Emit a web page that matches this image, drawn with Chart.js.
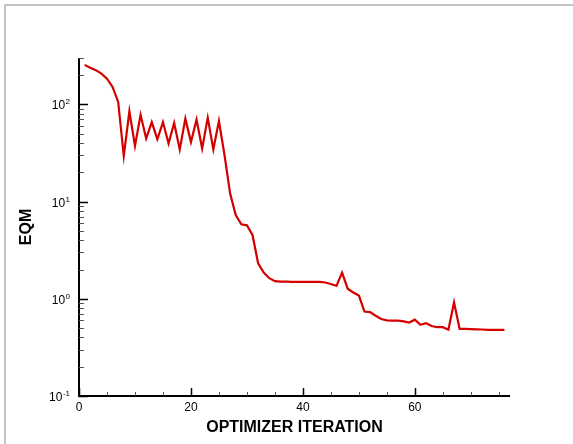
<!DOCTYPE html>
<html>
<head>
<meta charset="utf-8">
<script src="https://cdn.jsdelivr.net/npm/chart.js@4/dist/chart.umd.min.js"></script>
<style>
html,body{margin:0;padding:0;background:#fff;}
canvas{display:block;}
</style>
</head>
<body>
<canvas id="c" width="573" height="444"></canvas>
<script>
const iterations = [1,2,3,4,5,6,7,8,9,10,11,12,13,14,15,16,17,18,19,20,
  21,22,23,24,25,26,27,28,29,30,31,32,33,34,35,36,37,38,39,40,
  41,42,43,44,45,46,47,48,49,50,51,52,53,54,55,56,57,58,59,60,
  61,62,63,64,65,66,67,68,69,70,71,72,73,74,75,76];
const eqm = [255,238,225,207,184,151,106,29.5,85,37.3,
  78,44.5,65.8,43.8,65.8,39.5,64.3,34.3,71.3,41,
  69.7,35.1,73,34.3,67.4,30,12.1,7.27,5.83,5.7,
  4.53,2.32,1.86,1.63,1.52,1.50,1.50,1.49,1.49,1.49,
  1.49,1.49,1.49,1.47,1.42,1.36,1.86,1.27,1.16,1.08,
  0.74,0.73,0.67,0.62,0.60,0.595,0.595,0.585,0.57,0.61,
  0.54,0.56,0.525,0.51,0.51,0.48,0.917,0.49,0.49,0.488,
  0.485,0.483,0.48,0.48,0.48,0.48];
const xMajorTicks = [0,20,40,60];
const xMinorTicks = [5,10,15,25,30,35,45,50,55,65,70,75];
const yMajorTicks = [0.1,1,10,100];
const yExponents = ['-1','0','1','2'];
const yMinorTicks = [0.2,0.3,0.4,0.5,0.6,0.7,0.8,0.9,2,3,4,5,6,7,8,9,20,30,40,50,60,70,80,90,200,300];
const xTitle = 'OPTIMIZER ITERATION';
const yTitle = 'EQM';

const FONT = '"Liberation Sans", Arial, Helvetica, sans-serif';

const axesPlugin = {
  id: 'axesPlugin',
  beforeDraw(chart) {
    const ctx = chart.ctx;
    ctx.save();
    ctx.fillStyle = '#fff';
    ctx.fillRect(0, 0, chart.width, chart.height);
    ctx.strokeStyle = '#c4c4c4';
    ctx.lineWidth = 2;
    ctx.beginPath();
    ctx.moveTo(5, chart.height);
    ctx.lineTo(5, 5);
    ctx.lineTo(chart.width, 5);
    ctx.stroke();
    ctx.restore();
  },
  afterDraw(chart) {
    const ctx = chart.ctx;
    const xs = chart.scales.x, ys = chart.scales.y;
    const a = chart.chartArea;
    ctx.save();
    ctx.strokeStyle = '#000';
    ctx.lineWidth = 2;
    ctx.beginPath();
    ctx.moveTo(a.left, a.top);
    ctx.lineTo(a.left, a.bottom);
    ctx.lineTo(a.right, a.bottom);
    ctx.stroke();
    ctx.lineWidth = 1.5;
    ctx.beginPath();
    yMajorTicks.forEach(v => { const y = Math.round(ys.getPixelForValue(v)) + 0.5; ctx.moveTo(a.left, y); ctx.lineTo(a.left + 9, y); });
    xMajorTicks.forEach(v => { const x = Math.round(xs.getPixelForValue(v)) + 0.5; ctx.moveTo(x, a.bottom); ctx.lineTo(x, a.bottom - 8); });
    ctx.stroke();
    ctx.lineWidth = 1;
    ctx.strokeStyle = '#555';
    ctx.beginPath();
    yMinorTicks.forEach(v => { const y = Math.round(ys.getPixelForValue(v)) + 0.5; ctx.moveTo(a.left, y); ctx.lineTo(a.left + 5, y); });
    xMinorTicks.forEach(v => { const x = Math.round(xs.getPixelForValue(v)) + 0.5; ctx.moveTo(x, a.bottom); ctx.lineTo(x, a.bottom - 4); });
    ctx.stroke();
    ctx.fillStyle = '#000';
    ctx.textAlign = 'right';
    ctx.textBaseline = 'alphabetic';
    yMajorTicks.forEach((v, i) => {
      const y = ys.getPixelForValue(v);
      const right = 70;
      ctx.font = '8px ' + FONT;
      const w = ctx.measureText(yExponents[i]).width;
      ctx.fillText(yExponents[i], right, y);
      ctx.font = '12px ' + FONT;
      ctx.fillText('10', right - w - 0.5, y + 5);
    });
    ctx.restore();
  }
};

new Chart(document.getElementById('c'), {
  type: 'line',
  data: {
    datasets: [{
      data: iterations.map((it, i) => ({x: it, y: eqm[i]})),
      borderColor: '#d40000',
      borderWidth: 2.2,
      pointRadius: 0,
      tension: 0,
      fill: false
    }]
  },
  options: {
    responsive: false,
    animation: false,
    layout: { padding: { left: 0, top: 58, right: 63, bottom: 0 } },
    plugins: { legend: { display: false }, tooltip: { enabled: false } },
    scales: {
      x: {
        type: 'linear',
        min: 0, max: 77,
        afterBuildTicks(s) { s.ticks = xMajorTicks.map(v => ({value: v})); },
        afterFit(s) { s.height = 48; },
        grid: { display: false, drawTicks: false },
        border: { display: false },
        ticks: { color: '#000', font: { family: FONT, size: 12 }, padding: 4, maxRotation: 0 },
        title: { display: true, text: xTitle, color: '#000', font: { family: FONT, size: 16, weight: 'bold' }, padding: { top: 0, bottom: 7 } }
      },
      y: {
        type: 'logarithmic',
        min: 0.1, max: 300,
        afterFit(s) { s.width = 79; },
        grid: { display: false, drawTicks: false },
        border: { display: false },
        ticks: { display: false },
        title: { display: true, text: yTitle, color: '#000', font: { family: FONT, size: 16, weight: 'bold' }, padding: { top: 17, bottom: 0 } }
      }
    }
  },
  plugins: [axesPlugin]
});
</script>
</body>
</html>
